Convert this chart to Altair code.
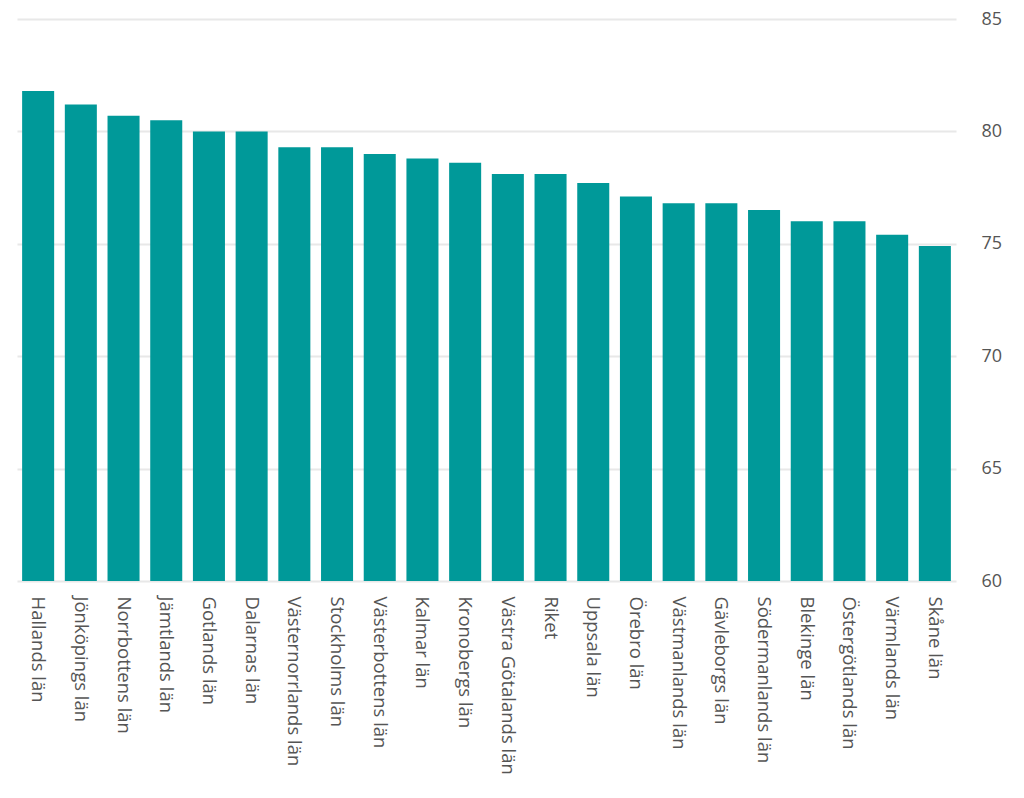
import altair as alt
import pandas as pd

lan = ["Hallands län", "Jönköpings län", "Norrbottens län", "Jämtlands län", "Gotlands län",
       "Dalarnas län", "Västernorrlands län", "Stockholms län", "Västerbottens län", "Kalmar län",
       "Kronobergs län", "Västra Götalands län", "Riket", "Uppsala län", "Örebro län",
       "Västmanlands län", "Gävleborgs län", "Södermanlands län", "Blekinge län",
       "Östergötlands län", "Värmlands län", "Skåne län"]
varde = [81.8, 81.2, 80.7, 80.5, 80.0, 80.0, 79.3, 79.3, 79.0, 78.8, 78.6, 78.1, 78.1, 77.7,
         77.1, 76.8, 76.8, 76.5, 76.0, 76.0, 75.4, 74.9]
y_ticks = [60, 65, 70, 75, 80, 85]

df = pd.DataFrame({"lan": lan, "varde": varde})

chart = alt.Chart(df).mark_bar(color="#009999", clip=True).encode(
    x=alt.X("lan:N", sort=lan, title=None,
            scale=alt.Scale(paddingInner=0.25, paddingOuter=0.12),
            axis=alt.Axis(labelAngle=90, labelAlign="left", labelBaseline="middle",
                          labelPadding=15, ticks=False, domain=False,
                          labelFont="Open Sans", labelFontSize=18.5, labelColor="#555555",
                          labelLimit=300)),
    y=alt.Y("varde:Q", title=None,
            scale=alt.Scale(domain=[60, 85], zero=False, nice=False),
            axis=alt.Axis(orient="right", values=y_ticks, ticks=False, domain=False,
                          labelPadding=25, labelFont="Open Sans", labelFontSize=18,
                          labelColor="#555555", gridColor="#e8e8e8", gridWidth=2)),
).properties(
    width=939, height=562,
    padding={"left": 9, "top": 2, "right": 5, "bottom": 5},
).configure_view(stroke=None)

chart.save("out.html", embed_options={"renderer": "svg", "actions": False})
